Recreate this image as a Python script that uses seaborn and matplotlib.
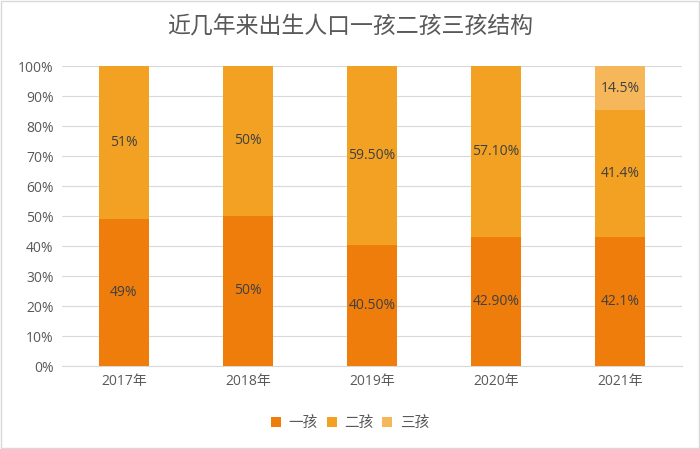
import matplotlib
matplotlib.use("Agg")
import matplotlib.pyplot as plt
import seaborn as sns
import pandas as pd
import numpy as np
from matplotlib.patches import Patch

sns.set_theme(style="white")
plt.rcParams['font.family'] = ['Open Sans', 'Noto Sans CJK SC', 'DejaVu Sans']

title = "近几年来出生人口一孩二孩三孩结构"
years = ["2017年", "2018年", "2019年", "2020年", "2021年"]
series_names = ["一孩", "二孩", "三孩"]
first_child = [49, 50, 40.5, 42.9, 42.1]
second_child = [51, 50, 59.5, 57.1, 41.4]
third_child = [0, 0, 0, 0, 14.5]
first_labels = ["49%", "50%", "40.50%", "42.90%", "42.1%"]
second_labels = ["51%", "50%", "59.50%", "57.10%", "41.4%"]
third_labels = ["", "", "", "", "14.5%"]

colors = ["#EE7D0B", "#F2A122", "#F6B75B"]
text_col = "#595959"

f = np.array(first_child, float)
s = np.array(second_child, float)
t = np.array(third_child, float)
tot = f + s + t
fn, sn, tn = f / tot * 100, s / tot * 100, t / tot * 100

df = pd.DataFrame({
    "year": years,
    "c1": fn,
    "c12": fn + sn,
    "c123": fn + sn + tn,
})

fig = plt.figure(figsize=(7, 4.49), dpi=100)
ax = fig.add_axes([62/700, 1 - 366/449, 620/700, 300/449])

width = 0.4
sns.barplot(data=df, x="year", y="c123", color=colors[2], width=width, ax=ax,
            saturation=1, linewidth=0, zorder=3)
sns.barplot(data=df, x="year", y="c12", color=colors[1], width=width, ax=ax,
            saturation=1, linewidth=0, zorder=3)
sns.barplot(data=df, x="year", y="c1", color=colors[0], width=width, ax=ax,
            saturation=1, linewidth=0, zorder=3)

lab_col = "#404040"
for i in range(len(years)):
    ax.text(i, fn[i] / 2, first_labels[i], ha="center", va="center",
            fontsize=10, color=lab_col, zorder=5)
    ax.text(i, fn[i] + sn[i] / 2, second_labels[i], ha="center", va="center",
            fontsize=10, color=lab_col, zorder=5)
    if third_labels[i]:
        ax.text(i, fn[i] + sn[i] + tn[i] / 2, third_labels[i], ha="center",
                va="center", fontsize=10, color=lab_col, zorder=5)

ax.set_ylim(0, 100)
ax.set_xlim(-0.5, len(years) - 0.5)
ax.set_yticks(np.arange(0, 101, 10))
ax.set_yticklabels([f"{v}%" for v in range(0, 101, 10)])
ax.yaxis.grid(True, color="#D9D9D9", linewidth=0.8, zorder=0)
ax.set_axisbelow(True)
for sp in ["top", "right", "left"]:
    ax.spines[sp].set_visible(False)
ax.spines["bottom"].set_color("#D9D9D9")
ax.spines["bottom"].set_linewidth(0.8)
ax.tick_params(axis="both", length=0, labelsize=10, colors=text_col, pad=6)
ax.set_xlabel("")
ax.set_ylabel("")

fig.text(0.5, 1 - 27/449, title, ha="center", va="center", fontsize=16.5,
         color=text_col, family=['Noto Sans CJK SC', 'DejaVu Sans'])

handles = [Patch(facecolor=c, edgecolor="none") for c in colors]
fig.legend(handles, series_names, loc="center", bbox_to_anchor=(0.5, 1 - 423/449),
           ncol=3, frameon=False, fontsize=10.5, handlelength=0.7, handleheight=0.7,
           handletextpad=0.5, columnspacing=0.6, labelcolor=text_col,
           prop={'family': ['Noto Sans CJK SC', 'DejaVu Sans'], 'size': 10.5})

border = plt.Rectangle((0.002, 0.002), 0.996, 0.996, transform=fig.transFigure,
                       fill=False, edgecolor="#D9D9D9", linewidth=1)
fig.patches.append(border)

fig.savefig("out.png", dpi=100)
